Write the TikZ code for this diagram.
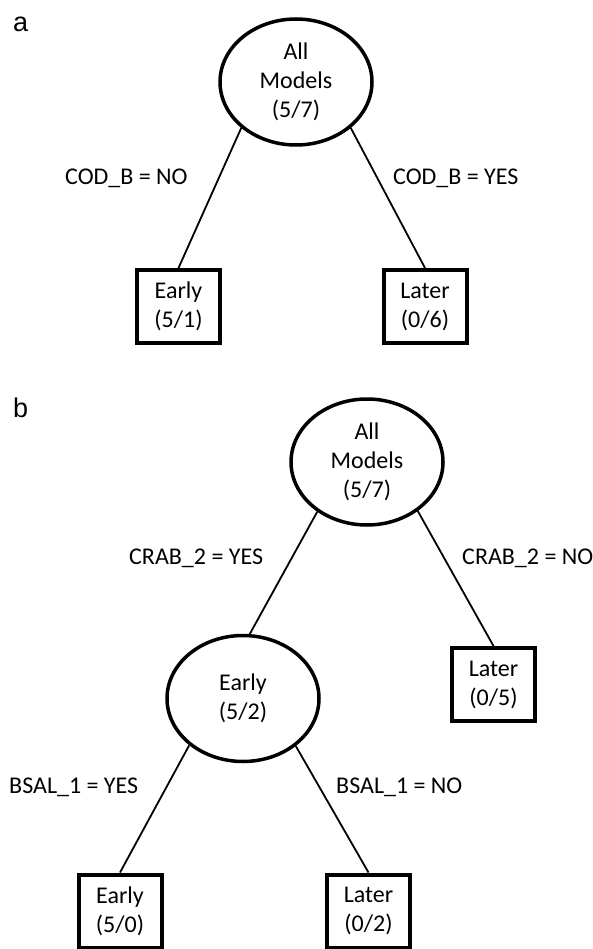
\documentclass[tikz,border=0pt]{standalone}
\usepackage{fontspec}
\setmainfont{Carlito}
\newfontfamily\panelfont{Liberation Sans}
\usetikzlibrary{shapes.geometric,positioning}

\begin{document}
\begin{tikzpicture}[
    x=1pt, y=-1pt,
    font=\fontsize{24}{29}\selectfont,
    test/.style={draw, ellipse, line width=3.5pt, minimum width=152pt, minimum height=126pt, inner sep=0pt, align=center},
    leaf/.style={draw, rectangle, line width=4pt, minimum width=83pt, minimum height=73pt, inner sep=0pt, align=center},
    cond/.style={anchor=base west, inner sep=0pt},
    panel/.style={anchor=base west, inner sep=0pt, font=\panelfont\fontsize{27}{32}\selectfont},
    branch/.style={line width=1.8pt}
]
\useasboundingbox (0,0) rectangle (593,949);

% panel a
\node[panel] (pa) at (13,32) {a};
\node[test] (a0) at (296,82) {All\\Models\\(5/7)};
\node[leaf] (a1) at (178.5,306.5) {Early\\(5/1)};
\node[leaf] (a2) at (425,306.5) {Later\\(0/6)};
\node[cond] (ca1) at (65,185) {COD\_B = NO};
\node[cond] (ca2) at (393,185) {COD\_B = YES};

% panel b
\node[panel] (pb) at (13,417) {b};
\node[test] (b0) at (367,462) {All\\Models\\(5/7)};
\node[test] (b1) at (243,698.5) {Early\\(5/2)};
\node[leaf] (b2) at (493.5,684.5) {Later\\(0/5)};
\node[leaf] (b3) at (120,911) {Early\\(5/0)};
\node[leaf] (b4) at (368.5,911) {Later\\(0/2)};
\node[cond] (cb1) at (129,564) {CRAB\_2 = YES};
\node[cond] (cb2) at (462,564) {CRAB\_2 = NO};
\node[cond] (cb3) at (9,793) {BSAL\_1 = YES};
\node[cond] (cb4) at (336,793) {BSAL\_1 = NO};

\foreach \i/\j in {a0.220/a1.north, a0.-40/a2.north, b0.225/b1.84, b0.-44/b2.north, b1.221/b3.north, b1.-42/b4.north}
  \draw[branch] (\i) -- (\j);
\end{tikzpicture}
\end{document}
